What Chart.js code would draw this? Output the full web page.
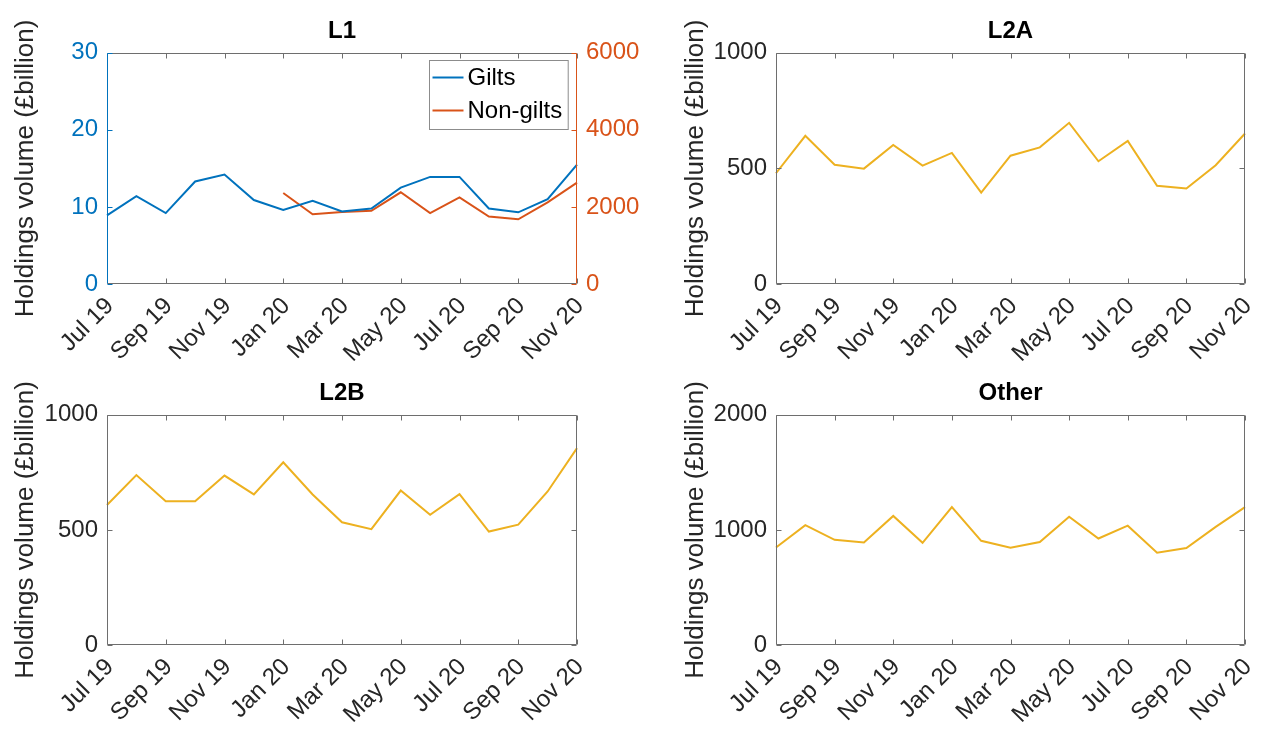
<!DOCTYPE html>
<html>
<head>
<meta charset="utf-8">
<title>Holdings volume</title>
<script src="https://cdn.jsdelivr.net/npm/chart.js@4.4.1/dist/chart.umd.min.js"></script>
<style>
  body { margin: 0; background: #fff; }
  canvas { position: absolute; }
</style>
</head>
<body>
<canvas id="cL1" width="640" height="365" style="left:0;top:0"></canvas>
<canvas id="cL2A" width="631" height="365" style="left:640px;top:0"></canvas>
<canvas id="cL2B" width="640" height="365" style="left:0;top:365px"></canvas>
<canvas id="cOther" width="631" height="365" style="left:640px;top:365px"></canvas>
<script>
// -------------------------------
// DATA
// -------------------------------
const months = ["Jul 19", "Aug 19", "Sep 19", "Oct 19", "Nov 19", "Dec 19", "Jan 20", "Feb 20", "Mar 20",
  "Apr 20", "May 20", "Jun 20", "Jul 20", "Aug 20", "Sep 20", "Oct 20", "Nov 20"];

const gilts = [8.9, 11.4, 9.2, 13.3, 14.2, 10.9, 9.6, 10.8, 9.4, 9.8, 12.5, 13.9, 13.9, 9.8, 9.3, 11.0, 15.5];
const nonGilts = [null, null, null, null, null, null, 2360, 1810, 1870, 1900, 2380, 1840, 2250, 1750, 1680, 2120, 2630];
const l2a = [479, 641, 516, 499, 601, 512, 567, 395, 555, 591, 697, 531, 619, 425, 413, 514, 651];
const l2b = [608, 738, 624, 624, 736, 654, 794, 654, 533, 503, 671, 566, 655, 493, 523, 667, 855];
const other = [847, 1041, 914, 891, 1121, 888, 1198, 905, 845, 894, 1115, 925, 1037, 802, 842, 1026, 1198];

const BLUE = "#0072BD";
const ORANGE = "#D95319";
const YELLOW = "#EDB120";
const AXIS = "#262626";
const BOX = "#6e6e6e";
const FONT = "'Liberation Sans', Arial, sans-serif";

// -------------------------------
// MATLAB-STYLE BOX + INWARD TICKS
// -------------------------------
const matlabBox = {
  id: "matlabBox",
  afterDraw(chart, args, o) {
    const { ctx, chartArea: a, scales } = chart;
    const L = Math.round(a.left) + 0.5, R = Math.round(a.right) - 0.5;
    const T = Math.round(a.top) + 0.5, B = Math.round(a.bottom) - 0.5;
    const tl = 5;
    ctx.save();
    ctx.lineWidth = 1;

    // x ticks (only labelled months)
    ctx.strokeStyle = BOX;
    ctx.beginPath();
    scales.x.ticks.forEach((t, i) => {
      if (i % 2) return;
      const px = Math.round(scales.x.getPixelForTick(i)) + 0.5;
      ctx.moveTo(px, B); ctx.lineTo(px, B - tl);
      ctx.moveTo(px, T); ctx.lineTo(px, T + tl);
    });
    ctx.moveTo(L, T); ctx.lineTo(R, T);
    ctx.moveTo(L, B); ctx.lineTo(R, B);
    ctx.stroke();

    // left axis
    const yl = scales.y;
    ctx.strokeStyle = o.leftColor || BOX;
    ctx.beginPath();
    ctx.moveTo(L, T); ctx.lineTo(L, B);
    yl.ticks.forEach(t => {
      const py = Math.round(yl.getPixelForValue(t.value)) + 0.5;
      ctx.moveTo(L, py); ctx.lineTo(L + tl, py);
    });
    ctx.stroke();

    // right axis
    const yr = scales.y1 || yl;
    ctx.strokeStyle = o.rightColor || BOX;
    ctx.beginPath();
    ctx.moveTo(R, T); ctx.lineTo(R, B);
    yr.ticks.forEach(t => {
      const py = Math.round(yr.getPixelForValue(t.value)) + 0.5;
      ctx.moveTo(R, py); ctx.lineTo(R - tl, py);
    });
    ctx.stroke();

    // legend box inside the axes (top right)
    if (o.legend) {
      const items = chart.data.datasets;
      ctx.font = "24px " + FONT;
      const textW = Math.max(...items.map(d => ctx.measureText(d.label).width));
      const w = 3 + 31 + 4 + textW + 6, rowH = 33, h = rowH * items.length + 3;
      const x0 = Math.round(a.right - 9 - w) + 0.5, y0 = Math.round(a.top + 7) + 0.5;
      ctx.fillStyle = "#fff";
      ctx.fillRect(x0, y0, w, h);
      ctx.strokeStyle = "#8c8c8c";
      ctx.strokeRect(x0, y0, w, h);
      items.forEach((d, i) => {
        const cy = y0 + 17 + i * rowH;
        ctx.strokeStyle = d.borderColor;
        ctx.lineWidth = 2;
        ctx.beginPath();
        ctx.moveTo(x0 + 3, cy); ctx.lineTo(x0 + 34, cy);
        ctx.stroke();
        ctx.fillStyle = "#000";
        ctx.textBaseline = "middle";
        ctx.textAlign = "left";
        ctx.fillText(d.label, x0 + 38, cy + 1);
      });
    }
    ctx.restore();
  }
};

// -------------------------------
// SHARED OPTIONS
// -------------------------------
function xScale(height) {
  return {
    type: "category",
    grid: { display: false, drawTicks: false },
    border: { display: false },
    ticks: {
      autoSkip: false, minRotation: 45, maxRotation: 45, padding: 8, labelOffset: 3,
      color: AXIS, font: { family: FONT, size: 24 },
      callback(v, i) { return i % 2 ? "" : this.getLabelForValue(v); }
    },
    afterFit(s) { s.height = height; s.paddingLeft = 0; s.paddingRight = 0; }
  };
}

function yScale(max, step, color, width, titlePad, position) {
  const s = {
    position: position || "left",
    min: 0, max: max,
    grid: { display: false, drawTicks: false },
    border: { display: false },
    ticks: {
      stepSize: step, padding: 9, color: color, font: { family: FONT, size: 24 },
      callback: v => String(v)
    },
    afterFit(sc) { sc.width = width; }
  };
  if (titlePad !== null) {
    s.title = {
      display: true, text: "Holdings volume (£billion)", color: AXIS,
      font: { family: FONT, size: 26 }, padding: { top: titlePad, bottom: 0 }
    };
  }
  return s;
}

function titleOpts(text, padTop, padBottom) {
  return {
    display: true, text: text, color: "#000", fullSize: false,
    font: { family: FONT, size: 24, weight: "bold" },
    padding: { top: padTop, bottom: padBottom }
  };
}

function lineSet(label, data, color, axis) {
  return {
    label: label, data: data, borderColor: color, backgroundColor: color,
    borderWidth: 2, pointRadius: 0, tension: 0, spanGaps: false, yAxisID: axis || "y"
  };
}

Chart.defaults.font.family = FONT;
Chart.defaults.animation = false;

// -------------------------------
// L1 (dual axis)
// -------------------------------
new Chart(document.getElementById("cL1"), {
  type: "line",
  data: {
    labels: months,
    datasets: [lineSet("Gilts", gilts, BLUE, "y"), lineSet("Non-gilts", nonGilts, ORANGE, "y1")]
  },
  options: {
    responsive: false,
    layout: { padding: 0 },
    scales: {
      x: xScale(81),
      y: yScale(30, 10, BLUE, 107, 10, "left"),
      y1: yScale(6000, 2000, ORANGE, 63, null, "right")
    },
    plugins: {
      legend: { display: false }, tooltip: { enabled: false },
      title: titleOpts("L1", 17, 7),
      matlabBox: { leftColor: BLUE, rightColor: ORANGE, legend: true }
    }
  },
  plugins: [matlabBox]
});

// -------------------------------
// SINGLE SERIES PANELS
// -------------------------------
function panel(id, name, data, max, step, top, xh, yw, titlePad, rightPad) {
  new Chart(document.getElementById(id), {
    type: "line",
    data: { labels: months, datasets: [lineSet(name, data, YELLOW)] },
    options: {
      responsive: false,
      layout: { padding: { right: rightPad } },
      scales: {
        x: xScale(xh),
        y: yScale(max, step, AXIS, yw, titlePad, "left")
      },
      plugins: {
        legend: { display: false }, tooltip: { enabled: false },
        title: titleOpts(name, top[0], top[1]),
        matlabBox: {}
      }
    },
    plugins: [matlabBox]
  });
}

panel("cL2A", "L2A", l2a, 1000, 500, [17, 7], 81, 136, 40, 26);
panel("cL2B", "L2B", l2b, 1000, 500, [14, 7], 85, 107, 10, 63);
panel("cOther", "Other", other, 2000, 1000, [14, 7], 85, 136, 40, 26);
</script>
</body>
</html>
